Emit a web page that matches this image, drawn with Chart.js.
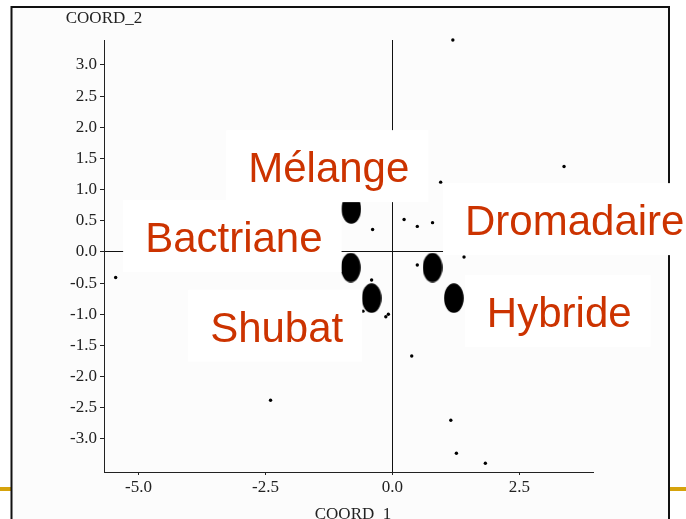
<!DOCTYPE html>
<html><head><meta charset="utf-8">
<script src="https://cdn.jsdelivr.net/npm/chart.js@4/dist/chart.umd.min.js"></script>
<style>html,body{margin:0;padding:0;background:#fff;overflow:hidden}canvas{display:block}</style>
</head><body>
<canvas id="c" width="686" height="519"></canvas>
<script>
// ---- data ----
const groupNames = ['Mélange', 'Bactriane', 'Dromadaire', 'Shubat', 'Hybride'];
const centroidX = [-0.81, -0.82, 0.79, -0.41, 1.21];
const centroidY = [0.69, -0.25, -0.25, -0.74, -0.74];
const caseX = [1.19, 3.38, 0.95, -5.45, -2.40, 1.15, 1.26, 1.83, -0.39, 0.23, 0.49, 0.79, 0.49, -0.41, -0.58, -0.08, -0.13, 0.38, 1.41];
const caseY = [3.40, 1.37, 1.12, -0.41, -2.38, -2.70, -3.23, -3.39, 0.36, 0.52, 0.41, 0.47, -0.21, -0.45, -0.95, -1.00, -1.04, -1.67, -0.08];
const xTickValues = [-5, -2.5, 0, 2.5];
const yTickValues = [-3, -2.5, -2, -1.5, -1, -0.5, 0, 0.5, 1, 1.5, 2, 2.5, 3];
// label anchors (left edge / baseline of each group name), in axis units
const labelX = [-2.84, -4.87, 1.43, -3.59, 1.86];
const labelY = [1.12, 0.00, 0.27, -1.44, -1.20];
const xTitle = 'COORD_1';
const yTitle = 'COORD_2';

// ---- styles ----
const SERIF = '"Liberation Serif", "Times New Roman", serif';
const SANS = '"Liberation Sans", Arial, sans-serif';
const ell = document.createElement('canvas');
ell.width = 20; ell.height = 30;
{ const e = ell.getContext('2d'); e.fillStyle = '#000'; e.beginPath(); e.ellipse(10, 15, 9.8, 14.8, 0, 0, Math.PI * 2); e.fill(); }

const decor = {
  id: 'decor',
  beforeDraw(chart) {
    const ctx = chart.ctx;
    ctx.save();
    ctx.fillStyle = '#ffffff';
    ctx.fillRect(0, 0, chart.width, chart.height);
    ctx.fillStyle = '#fcfcfc';
    ctx.fillRect(12, 8, 657, 520);
    ctx.fillStyle = '#D6A30C';
    ctx.fillRect(0, 487, 12, 4);
    ctx.fillRect(669, 487, 17, 4);
    ctx.strokeStyle = '#111';
    ctx.lineWidth = 2;
    ctx.strokeRect(11.5, 7, 657.5, 540);
    ctx.restore();
  },
  afterDatasetsDraw(chart) {
    const { ctx, scales: { x, y } } = chart;
    ctx.save();
    ctx.font = '42px ' + SANS;
    ctx.textAlign = 'left';
    ctx.textBaseline = 'alphabetic';
    groupNames.forEach((name, i) => {
      const px = x.getPixelForValue(labelX[i]);
      const py = y.getPixelForValue(labelY[i]);
      const w = ctx.measureText(name).width;
      ctx.fillStyle = '#ffffff';
      ctx.fillRect(px - 22, py - 52, w + 41, 72);
      ctx.fillStyle = '#CC3300';
      ctx.fillText(name, px, py);
    });
    ctx.restore();
  },
  afterDraw(chart) {
    const { ctx, chartArea } = chart;
    ctx.save();
    ctx.font = '17px ' + SERIF;
    ctx.fillStyle = '#222';
    ctx.textAlign = 'center';
    ctx.textBaseline = 'alphabetic';
    ctx.fillText(yTitle, chartArea.left, 23);
    ctx.fillText(xTitle, 353, 518.5);
    ctx.restore();
  }
};

const zeroLine = c => (c.tick && c.tick.value === 0) ? '#111' : 'rgba(0,0,0,0)';

new Chart(document.getElementById('c'), {
  type: 'scatter',
  data: {
    datasets: [
      {
        label: 'centroids',
        data: centroidX.map((v, i) => ({ x: v, y: centroidY[i] })),
        pointStyle: ell,
        pointRadius: 10,
        clip: false
      },
      {
        label: 'cases',
        data: caseX.map((v, i) => ({ x: v, y: caseY[i] })),
        pointStyle: 'circle',
        pointRadius: 1.7,
        backgroundColor: '#000',
        borderWidth: 0,
        clip: false
      }
    ]
  },
  options: {
    responsive: false,
    animation: false,
    devicePixelRatio: 1,
    layout: { padding: { left: 0, top: 40, right: 93, bottom: 0 } },
    plugins: { legend: { display: false }, tooltip: { enabled: false } },
    events: [],
    scales: {
      x: {
        type: 'linear', min: -5.68, max: 3.95,
        afterBuildTicks: s => { s.ticks = xTickValues.map(v => ({ value: v })); },
        afterFit: s => { s.height = 47; },
        grid: { drawOnChartArea: true, color: zeroLine, tickColor: '#222', tickLength: 3, lineWidth: 1 },
        border: { display: true, color: '#222', width: 1 },
        ticks: { color: '#222', font: { family: SERIF, size: 17 }, padding: 2, maxRotation: 0, autoSkip: false,
                 callback: v => Number(v).toFixed(1) }
      },
      y: {
        type: 'linear', min: -3.53, max: 3.40,
        afterBuildTicks: s => { s.ticks = yTickValues.map(v => ({ value: v })); },
        afterFit: s => { s.width = 104; },
        grid: { drawOnChartArea: true, color: zeroLine, tickColor: '#222', tickLength: 4, lineWidth: 1 },
        border: { display: true, color: '#222', width: 1 },
        ticks: { color: '#222', font: { family: SERIF, size: 17 }, padding: 3, autoSkip: false,
                 callback: v => Number(v).toFixed(1) }
      }
    }
  },
  plugins: [decor]
});
</script>
</body></html>
